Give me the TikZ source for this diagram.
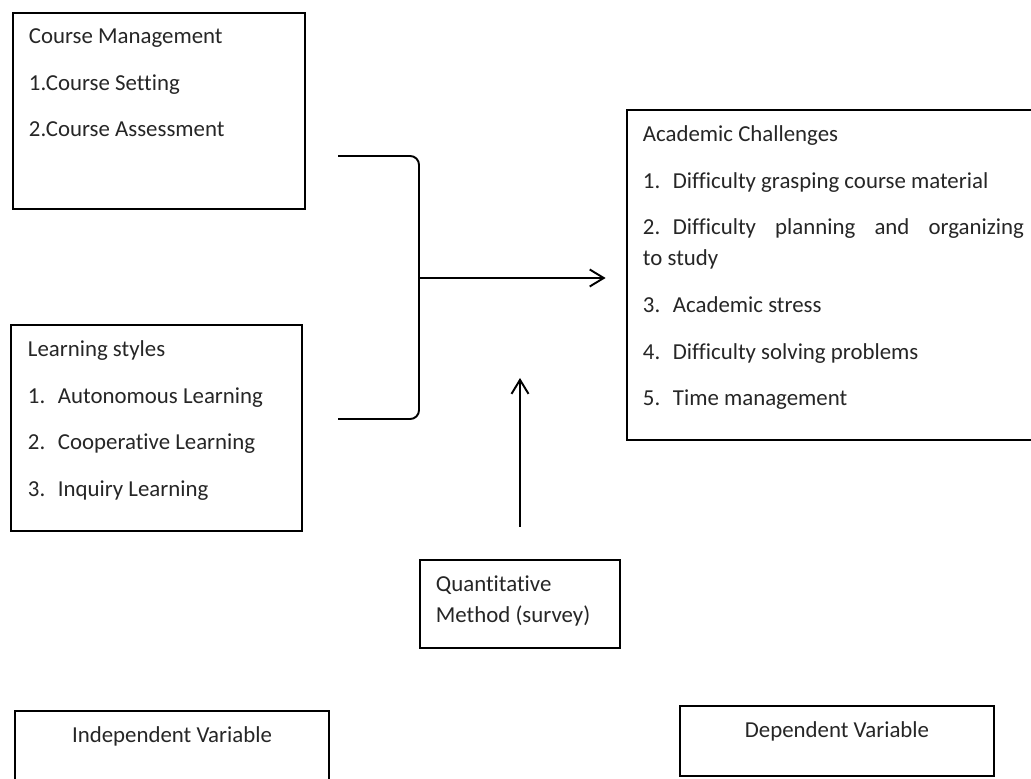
\documentclass[tikz,border=0pt]{standalone}
\usepackage{fontspec}
\setmainfont[Ligatures=NoCommon]{Carlito}
\usetikzlibrary{arrows.meta,positioning,calc}
\tikzset{box/.style={draw=black,line width=1.6pt,fill=white,inner sep=0pt},txt/.style={text=black!85,inner sep=0pt,align=left,font=\fontsize{13}{17.6}\selectfont},conn/.style={-{Straight Barb[length=2.8mm,width=3.4mm]},line width=1.1pt},brk/.style={line width=1.1pt,rounded corners=5pt}}
\newcommand{\itm}[1]{\makebox[0.6cm][l]{#1}}

\begin{document}
\begin{tikzpicture}[x=1cm,y=1cm]
\path[use as bounding box,fill=white] (0,0) rectangle (20.62,15.56);
\node[box,minimum width=5.84cm,minimum height=3.92cm] (cm) at (3.18,13.34) {};
\node[box,minimum width=5.82cm,minimum height=4.12cm] (ls) at (3.13,7.00) {};
\node[box,minimum width=8.26cm,minimum height=6.60cm] (ac) at (16.67,10.06) {};
\node[box,minimum width=4.0cm,minimum height=1.76cm] (qm) at (10.40,3.48) {};
\node[box,minimum width=6.28cm,minimum height=1.74cm] (iv) at (3.44,0.47) {};
\node[box,minimum width=6.28cm,minimum height=1.40cm] (dv) at (16.74,0.74) {};
\node[txt,anchor=north west] (cmtxt) at ([shift={(.34,-.33)}]cm.north west) {Course Management\\[9pt]1.Course Setting\\[9pt]2.Course Assessment};
\node[txt,anchor=north west] (lstxt) at ([shift={(.36,-.33)}]ls.north west) {Learning styles\\[9pt]\itm{1.}Autonomous Learning\\[9pt]\itm{2.}Cooperative Learning\\[9pt]\itm{3.}Inquiry Learning};
\node[txt,anchor=north west] (actxt) at ([shift={(.34,-.33)}]ac.north west) {Academic Challenges\\[9pt]\itm{1.}Difficulty grasping course material\\[9pt]\itm{2.}\makebox[7.02cm][s]{Difficulty planning and organizing}\\to study\\[9pt]\itm{3.}Academic stress\\[9pt]\itm{4.}Difficulty solving problems\\[9pt]\itm{5.}Time management};
\node[txt,anchor=north west] (qmtxt) at ([shift={(.34,-.33)}]qm.north west) {Quantitative\\Method (survey)};
\node[txt,anchor=north] (ivtxt) at ([yshift=-.33cm]iv.north) {Independent Variable};
\node[txt,anchor=north] (dvtxt) at ([yshift=-.33cm]dv.north) {Dependent Variable};
% bracket joining the two independent boxes
\coordinate (btop) at (6.76,12.44);
\coordinate (bbot) at (6.76,7.18);
\coordinate (bmid) at (8.38,10.0);
\coordinate (qtip) at (10.40,8.0);
\draw[brk] (btop) -| (bmid) |- (bbot);
\draw[conn,shorten >=0.4cm] (bmid) -- (bmid -| ac.west);
\draw[conn,shorten <=0.64cm] (qm.north) -- (qtip);
\end{tikzpicture}
\end{document}
